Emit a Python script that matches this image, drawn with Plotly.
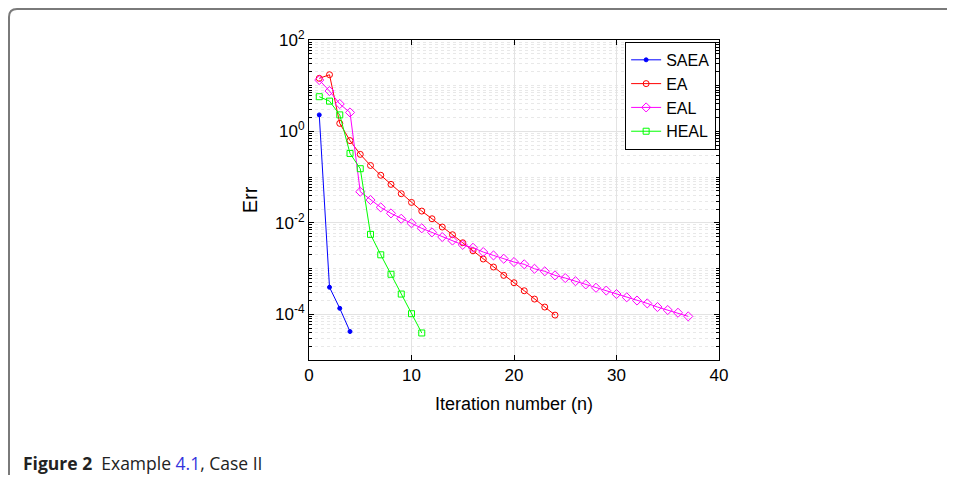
import plotly.graph_objects as go

# Werte (Fehler je Iteration)
saea_n = [1, 2, 3, 4]
saea_err = [2.3, 3.9e-4, 1.35e-4, 4.2e-5]

ea_n = list(range(1, 25))
ea_err = [14.5, 17.4, 1.5, 0.63, 0.315, 0.18, 0.11, 0.0695, 0.0434, 0.028,
          0.0181, 0.0123, 0.0081, 0.0055, 0.00367, 0.00245, 0.00162, 0.00108,
          7.1e-4, 4.9e-4, 3.27e-4, 2.15e-4, 1.44e-4, 9.6e-5]

eal_n = list(range(1, 38))
eal_err = [13.3, 7.65, 3.98, 2.6, 0.048, 0.0316, 0.0218, 0.0161, 0.0123, 0.0098,
           0.0076, 0.0062, 0.0049, 0.0041, 0.0033, 0.00285, 0.0023, 0.00194,
           0.00164, 0.00139, 0.00124, 0.00099, 0.00087, 0.00071, 0.00062,
           0.00053, 0.00045, 0.00038, 0.00033, 2.77e-4, 2.35e-4, 2.0e-4,
           1.73e-4, 1.44e-4, 1.24e-4, 1.08e-4, 9.0e-5]

heal_n = list(range(1, 12))
heal_err = [5.75, 4.6, 2.3, 0.33, 0.153, 0.0056, 0.002, 7.5e-4, 2.77e-4, 1.03e-4, 3.9e-5]

y_tickvals = [1e-4, 1e-2, 1, 1e2]
y_ticktext = ["10<sup>-4</sup>", "10<sup>-2</sup>", "10<sup>0</sup>", "10<sup>2</sup>"]
x_tickvals = [0, 10, 20, 30, 40]

# Seite hat 8px Rand -> Figur ist 16px kleiner, Plotbereich in Figur-Pixeln
OFF = 8
W, H = 955 - 2 * OFF, 483 - 2 * OFF
L, R, T, B = 309 - OFF, 719 - OFF, 40 - OFF, 360 - OFF

fig = go.Figure()

series = [
    ("SAEA", saea_n, saea_err, "#0000ff", "circle", 4),
    ("EA", ea_n, ea_err, "#ff0000", "circle-open", 6),
    ("EAL", eal_n, eal_err, "#ff00ff", "diamond-open", 7),
    ("HEAL", heal_n, heal_err, "#00ff00", "square-open", 6),
]
for name, xs, ys, col, sym, sz in series:
    fig.add_trace(go.Scatter(x=xs, y=ys, mode="lines+markers", name=name,
                             line=dict(color=col, width=1),
                             marker=dict(symbol=sym, size=sz, color=col,
                                         line=dict(color=col, width=1))))

# kleine Gitterlinien (log) bei k*10^e
minor_vals = [k * 10.0 ** e for e in range(-5, 2) for k in range(2, 10)]
minor_vals += [1e-5, 1e-3, 1e-1, 1e1]

fig.update_xaxes(range=[0, 40], tickvals=x_tickvals, ticks="inside", ticklen=5,
                 tickcolor="black", showline=True, linecolor="black", linewidth=1,
                 mirror="ticks", showgrid=True, gridcolor="#e3e3e3", gridwidth=1,
                 zeroline=False,
                 tickfont=dict(family="Liberation Sans, Arial", size=17, color="black"),
                 title=dict(text="Iteration number (n)", standoff=12,
                            font=dict(family="Liberation Sans, Arial", size=18, color="black")))

fig.update_yaxes(type="log", range=[-5, 2], tickvals=y_tickvals, ticktext=y_ticktext,
                 ticks="inside", ticklen=5, tickcolor="black", showline=True,
                 linecolor="black", linewidth=1, mirror="ticks", showgrid=True,
                 gridcolor="#e3e3e3", gridwidth=1, zeroline=False,
                 minor=dict(tickvals=minor_vals, ticks="inside", ticklen=3,
                            tickcolor="black", showgrid=True, gridcolor="#e8e8e8",
                            griddash="dot", gridwidth=1),
                 tickfont=dict(family="Liberation Sans, Arial", size=17, color="black"),
                 title=dict(text="Err", standoff=12,
                            font=dict(family="Liberation Sans, Arial", size=20, color="black")))

def px(x):
    # Seitenpixel -> paper
    return (x - OFF - L) / (R - L)

def py(y):
    return (B - (y - OFF)) / (B - T)

# Rahmen um die Abbildung (oben und links, abgerundete Ecke)
border = (f"M {px(970)} {py(9)} L {px(17)} {py(9)} "
          f"Q {px(9)} {py(9)} {px(9)} {py(17)} L {px(9)} {py(500)}")
fig.add_shape(type="path", path=border, xref="paper", yref="paper",
              line=dict(color="#7a7a7a", width=2), layer="above")

fig.add_annotation(x=px(21), y=py(463), xref="paper", yref="paper",
                   xanchor="left", yanchor="middle", showarrow=False,
                   text="<b>Figure 2</b>  Example <span style='color:#3333dd'>4.1</span>, Case II",
                   font=dict(family="Open Sans, Noto Sans", size=17.5, color="#222222"))

fig.update_layout(width=W, height=H, autosize=False,
                  margin=dict(l=L, r=W - R, t=T, b=H - B, pad=0),
                  paper_bgcolor="white", plot_bgcolor="white",
                  legend=dict(x=0.993, y=0.994, xanchor="right", yanchor="top",
                              bgcolor="white", bordercolor="black", borderwidth=1,
                              font=dict(family="Liberation Sans, Arial", size=16, color="black"),
                              itemwidth=30, tracegroupgap=0),
                  showlegend=True)

fig.write_html("out.html")
